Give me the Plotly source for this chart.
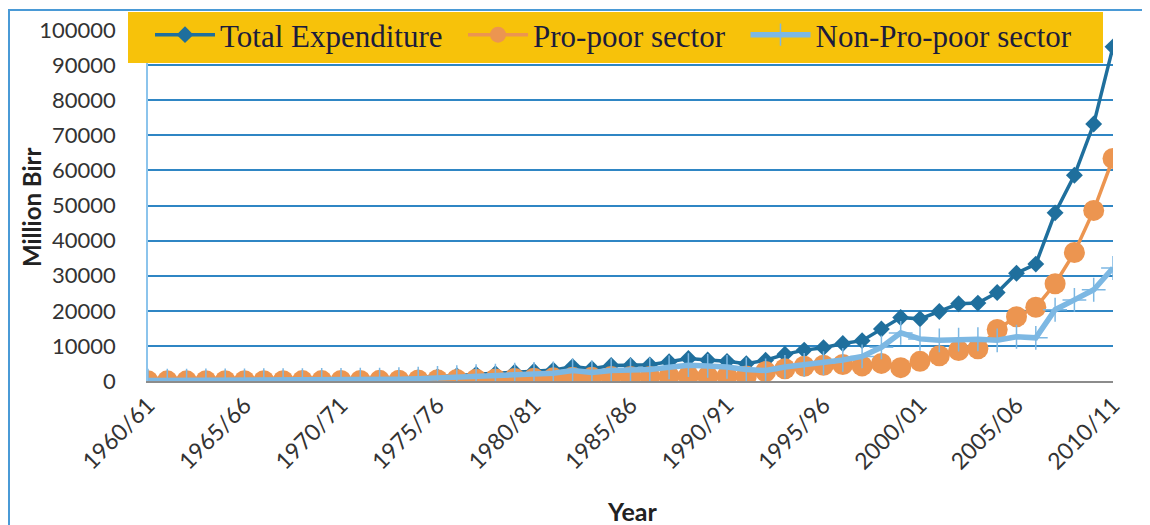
"""Ethiopia government expenditure: total vs pro-poor vs non-pro-poor sectors, 1960/61-2010/11"""
import plotly.graph_objects as go

# colours
COLOR_TOTAL = "#1f6f9d"
COLOR_PRO = "#ec9550"
COLOR_NONPRO = "#7db8e3"
COLOR_GRID = "#2f86c4"
COLOR_LEGEND_BG = "#f7c20a"
COLOR_TEXT = "#333333"

years = [f"{y}/{(y + 1) % 100:02d}" for y in range(1960, 2011)]

total_expenditure = [
    150, 170, 190, 210, 240, 270, 300, 330, 370, 410,
    460, 520, 600, 750, 950, 1200, 1500, 1900, 2100, 2500,
    2800, 3100, 4100, 3500, 4400, 4400, 4600, 5500, 6400, 6000,
    5600, 4900, 5900, 7600, 8800, 9500, 10700, 11500, 14800, 18100,
    17700, 19800, 22000, 22200, 25200, 30700, 33300, 47900, 58600, 73200,
    95200,
]
pro_poor = [
    40, 50, 55, 60, 70, 80, 90, 100, 110, 125,
    140, 160, 190, 230, 280, 350, 420, 500, 600, 700,
    800, 900, 1100, 1100, 1300, 1300, 1300, 1400, 1500, 1400,
    1400, 1400, 2700, 3500, 4200, 4500, 4700, 4300, 5000, 3800,
    5600, 7200, 8700, 9200, 14700, 18300, 21000, 27700, 36600, 48600,
    63400,
]
non_pro_poor = [
    110, 120, 135, 150, 170, 190, 210, 230, 260, 285,
    320, 360, 410, 520, 670, 850, 1080, 1400, 1500, 1800,
    2000, 2200, 3000, 2400, 3000, 3100, 3300, 3900, 4500, 4300,
    4000, 3300, 3000, 4000, 4600, 5100, 6000, 7000, 9600, 13700,
    12000, 11600, 11800, 11900, 11600, 12600, 12300, 20300, 23100, 26000,
    32200,
]

y_ticks = list(range(0, 100001, 10000))
x_ticks = years[::5]

fig = go.Figure()

fig.add_trace(go.Scatter(
    x=years, y=total_expenditure, name="Total Expenditure\u00a0\u00a0",
    mode="lines+markers",
    line=dict(color=COLOR_TOTAL, width=3.5),
    marker=dict(symbol="diamond", size=13, color=COLOR_TOTAL),
))
fig.add_trace(go.Scatter(
    x=years, y=pro_poor, name="Pro-poor sector\u00a0\u00a0",
    mode="lines+markers",
    line=dict(color=COLOR_PRO, width=3.5),
    marker=dict(symbol="circle", size=21, color=COLOR_PRO),
))
fig.add_trace(go.Scatter(
    x=years, y=non_pro_poor, name="Non-Pro-poor sector",
    mode="lines+markers",
    line=dict(color=COLOR_NONPRO, width=5.5),
    marker=dict(symbol="cross-thin", size=17, line=dict(color=COLOR_NONPRO, width=1.5)),
))

# plot area in the screenshot: x 148..1113 px, y 30..381 px
# (the page body adds an 8 px offset, so margins are shifted by it)
OFF = 8
L, R, T, B = 148, 1113, 30, 381
pw, ph = R - L, B - T


def px_x(x):
    return (x - L) / pw


def px_y(y):
    return (B - y) / ph


# yellow legend box and outer chart border
fig.add_shape(type="rect", xref="paper", yref="paper",
              x0=px_x(128), x1=px_x(1103), y0=px_y(63), y1=px_y(12),
              fillcolor=COLOR_LEGEND_BG, line=dict(width=0), layer="above")
fig.add_shape(type="rect", xref="paper", yref="paper",
              x0=px_x(9), x1=px_x(1170), y0=px_y(560), y1=px_y(10),
              fillcolor="rgba(0,0,0,0)", line=dict(color="#4a9ad6", width=2), layer="above")

# axis titles as annotations so they sit exactly where the reference has them
fig.add_annotation(text="<b>Million Birr</b>", xref="paper", yref="paper",
                   x=px_x(31), y=px_y(208), xanchor="center", yanchor="middle",
                   textangle=-90, showarrow=False,
                   font=dict(size=24, color="#222222"))
fig.add_annotation(text="<b>Year</b>", xref="paper", yref="paper",
                   x=px_x(632), y=px_y(511), xanchor="center", yanchor="middle",
                   showarrow=False,
                   font=dict(size=25, color="#222222"))

fig.update_layout(
    width=1150, height=525,
    margin=dict(l=L - OFF, r=1150 - R + OFF, t=T - OFF, b=525 - B + OFF, autoexpand=False),
    paper_bgcolor="white", plot_bgcolor="white",
    font=dict(family="Lato, 'Open Sans', sans-serif", color=COLOR_TEXT),
    legend=dict(
        orientation="h", x=px_x(150), y=px_y(8), xanchor="left", yanchor="top",
        bgcolor="rgba(0,0,0,0)",
        font=dict(family="Liberation Serif, serif", size=31, color="#1c1c3c"),
        itemwidth=60,
    ),
    xaxis=dict(
        type="category", range=[0, 50],
        tickmode="array", tickvals=x_ticks, ticktext=x_ticks,
        tickangle=-45, tickfont=dict(size=23),
        showgrid=False, showline=True, linecolor="#8c8c8c", linewidth=1.5,
        ticks="", zeroline=False, automargin=False,
    ),
    yaxis=dict(
        range=[0, 100000], tickvals=y_ticks, tickformat="d", tickfont=dict(size=22),
        showgrid=True, gridcolor=COLOR_GRID, gridwidth=1.5,
        zeroline=True, zerolinecolor="#8c8c8c", zerolinewidth=1.5,
        showline=True, linecolor="#8cc4ec", linewidth=1.5,
        ticklabelstandoff=26, automargin=False,
    ),
)

fig.write_html("out.html")
